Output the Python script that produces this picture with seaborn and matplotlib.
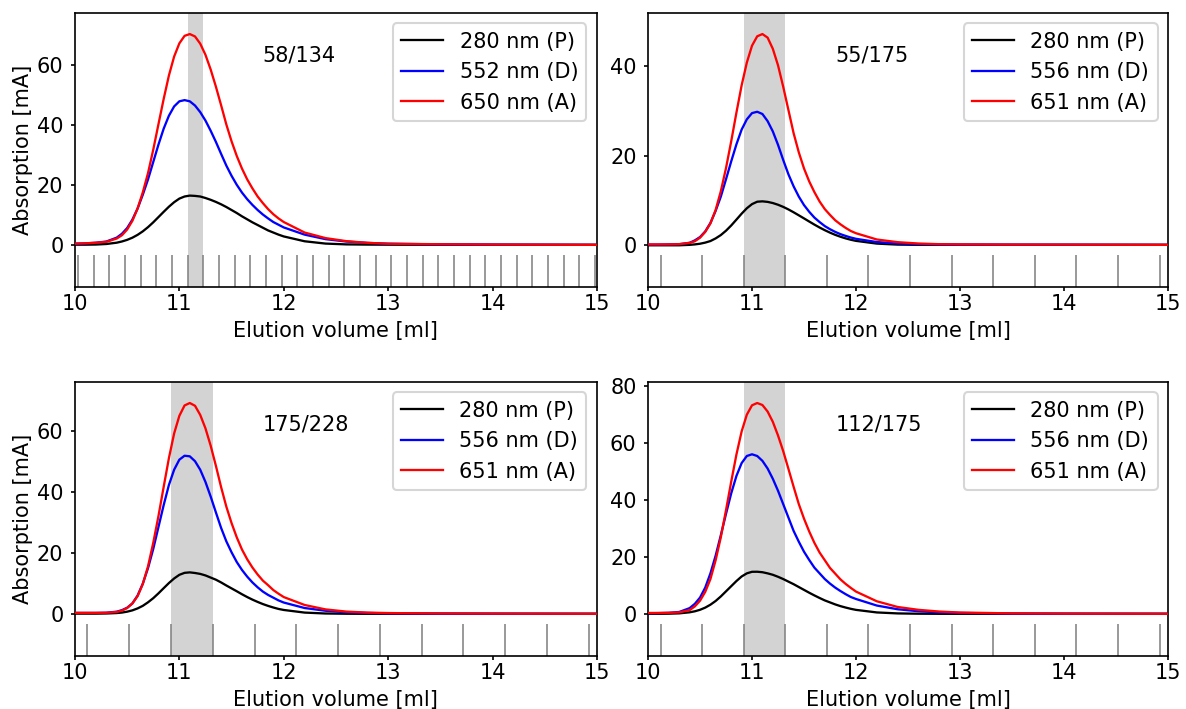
import matplotlib
matplotlib.use("Agg")
import matplotlib.pyplot as plt
from matplotlib.ticker import MultipleLocator
import pandas as pd
import seaborn as sns

# Elution volume grid (ml), shared by all chromatograms
elution_ml = [10.0, 10.1, 10.2, 10.3, 10.4, 10.45, 10.5, 10.55, 10.6, 10.65,
              10.7, 10.75, 10.8, 10.85, 10.9, 10.95, 11.0, 11.05, 11.1, 11.15,
              11.2, 11.25, 11.3, 11.35, 11.4, 11.45, 11.5, 11.55, 11.6, 11.65,
              11.7, 11.75, 11.8, 11.85, 11.9, 11.95, 12.0, 12.2, 12.4, 12.6,
              12.8, 13.0, 13.5, 14.0, 15.0]

# Sample 58/134 (mA)
p_58_134 = [0.05, 0.05, 0.1, 0.28, 0.72, 1.12, 1.66, 2.38, 3.33, 4.5,
            5.9, 7.5, 9.25, 11.0, 12.7, 14.2, 15.4, 16.1, 16.4, 16.3,
            16.1, 15.6, 15.0, 14.3, 13.5, 12.6, 11.6, 10.6, 9.5, 8.5,
            7.5, 6.6, 5.7, 4.8, 4.1, 3.4, 2.8, 1.19, 0.42, 0.15,
            0.08, 0.05, 0.02, 0.0, 0.0]
d_58_134 = [0.4, 0.5, 0.7, 1.1, 2.4, 3.7, 5.6, 8.4, 12.1, 16.7,
            21.8, 27.6, 33.4, 38.7, 43.0, 46.1, 47.8, 48.2, 47.8, 46.4,
            44.2, 41.4, 38.0, 34.3, 30.3, 26.4, 23.0, 20.0, 17.4, 15.2,
            13.3, 11.6, 10.1, 8.8, 7.6, 6.7, 5.8, 3.4, 1.9, 1.1,
            0.65, 0.38, 0.15, 0.08, 0.0]
a_58_134 = [0.4, 0.5, 0.7, 1.0, 2.1, 3.2, 5.1, 8.0, 12.1, 17.5,
            23.9, 31.7, 40.2, 48.6, 56.4, 62.7, 67.1, 69.6, 70.2, 69.4,
            67.0, 63.3, 58.4, 52.7, 46.5, 40.1, 34.5, 29.6, 25.4, 21.8,
            18.8, 16.1, 13.9, 11.9, 10.2, 8.8, 7.6, 4.1, 2.25, 1.23,
            0.67, 0.37, 0.2, 0.1, 0.0]

# Sample 55/175 (mA)
p_55_175 = [-0.1, -0.1, -0.1, -0.1, 0.0, 0.1, 0.25, 0.5, 0.85, 1.44,
            2.19, 3.17, 4.34, 5.65, 6.98, 8.19, 9.12, 9.66, 9.74, 9.62,
            9.36, 8.98, 8.50, 7.93, 7.29, 6.61, 5.92, 5.22, 4.53, 3.88,
            3.28, 2.73, 2.24, 1.82, 1.45, 1.14, 0.89, 0.28, 0.05, 0.0,
            0.0, 0.0, 0.0, 0.0, 0.0]
d_55_175 = [0.05, 0.05, 0.1, 0.15, 0.45, 1.0, 1.75, 3.0, 4.9, 7.6,
            10.8, 14.7, 18.7, 22.5, 25.8, 28.1, 29.5, 29.8, 29.3, 27.7,
            25.4, 22.4, 19.0, 15.8, 13.1, 10.8, 8.9, 7.4, 6.1, 5.1,
            4.2, 3.5, 2.9, 2.4, 2.0, 1.64, 1.35, 0.63, 0.3, 0.15,
            0.08, 0.05, 0.03, 0.02, 0.0]
a_55_175 = [0.1, 0.1, 0.1, 0.15, 0.45, 0.8, 1.6, 2.9, 4.8, 7.8,
            12.0, 17.2, 23.2, 29.6, 35.7, 40.8, 44.6, 46.7, 47.2, 46.4,
            43.9, 40.2, 35.4, 30.2, 25.0, 20.7, 17.1, 14.2, 11.8, 9.7,
            8.0, 6.7, 5.5, 4.6, 3.8, 3.1, 2.6, 1.2, 0.6, 0.3,
            0.15, 0.1, 0.05, 0.05, 0.0]

# Sample 175/228 (mA)
p_175_228 = [0.05, 0.05, 0.05, 0.1, 0.25, 0.41, 0.70, 1.13, 1.77, 2.62,
             3.78, 5.13, 6.72, 8.42, 10.1, 11.6, 12.8, 13.45, 13.6, 13.4,
             13.1, 12.6, 11.9, 11.2, 10.3, 9.3, 8.35, 7.4, 6.42, 5.5,
             4.66, 3.9, 3.2, 2.6, 2.07, 1.6, 1.26, 0.40, 0.1, 0.02,
             0.0, 0.0, 0.0, 0.0, 0.0]
d_175_228 = [0.3, 0.3, 0.3, 0.35, 0.7, 1.2, 2.0, 3.4, 6.0, 9.9,
             15.0, 21.3, 28.5, 35.7, 42.3, 47.3, 50.6, 51.9, 51.7, 50.1,
             47.3, 43.3, 38.5, 33.3, 28.2, 23.8, 20.2, 17.0, 14.4, 12.2,
             10.3, 8.7, 7.3, 6.2, 5.3, 4.4, 3.7, 1.9, 1.0, 0.5,
             0.28, 0.15, 0.08, 0.04, 0.0]
a_175_228 = [0.3, 0.3, 0.3, 0.35, 0.6, 1.05, 1.9, 3.4, 5.8, 9.8,
             15.6, 23.3, 32.1, 41.7, 51.1, 59.2, 65.0, 68.4, 69.2, 68.3,
             65.3, 60.9, 55.2, 48.6, 41.6, 35.2, 29.8, 25.1, 21.1, 17.9,
             15.2, 12.9, 10.9, 9.4, 7.8, 6.6, 5.5, 2.9, 1.45, 0.73,
             0.4, 0.25, 0.1, 0.05, 0.0]

# Sample 112/175 (mA)
p_112_175 = [0.0, 0.0, 0.04, 0.16, 0.53, 0.88, 1.41, 2.17, 3.2, 4.5,
             6.1, 7.9, 9.7, 11.5, 13.1, 14.2, 14.75, 14.77, 14.6, 14.2,
             13.7, 13.0, 12.2, 11.3, 10.4, 9.4, 8.4, 7.4, 6.45, 5.55,
             4.7, 4.0, 3.3, 2.7, 2.2, 1.75, 1.38, 0.48, 0.14, 0.03,
             0.0, 0.0, 0.0, 0.0, 0.0]
d_112_175 = [0.2, 0.25, 0.35, 0.65, 2.0, 3.5, 5.7, 9.2, 14.2, 20.4,
             27.6, 35.1, 42.3, 48.4, 52.9, 55.4, 56.0, 55.4, 53.7, 51.0,
             47.4, 43.2, 38.5, 33.8, 29.1, 25.3, 21.8, 18.9, 16.2, 14.2,
             12.2, 10.6, 9.2, 8.0, 6.9, 5.9, 5.2, 2.9, 1.6, 0.9,
             0.5, 0.3, 0.1, 0.05, 0.0]
a_112_175 = [0.3, 0.3, 0.35, 0.5, 1.3, 2.6, 4.6, 7.7, 12.2, 18.8,
             26.9, 36.4, 46.4, 55.9, 64.0, 69.9, 73.2, 74.0, 73.3, 71.0,
             67.4, 62.6, 57.1, 50.9, 44.6, 38.5, 33.4, 28.9, 24.9, 21.5,
             18.8, 16.1, 14.1, 12.1, 10.5, 9.1, 7.8, 4.4, 2.4, 1.4,
             0.8, 0.45, 0.15, 0.05, 0.0]

# Fraction boundaries (ml) from the fraction collector
fractions_fine = [10.03, 10.18, 10.33, 10.48, 10.63, 10.78, 10.93, 11.08, 11.23,
                  11.38, 11.53, 11.68, 11.83, 11.98, 12.13, 12.28, 12.43, 12.58,
                  12.73, 12.88, 13.03, 13.18, 13.33, 13.48, 13.63, 13.78, 13.93,
                  14.08, 14.23, 14.38, 14.53, 14.68, 14.83, 14.98]
fractions_coarse = [10.12, 10.52, 10.92, 11.32, 11.72, 12.12, 12.52, 12.92,
                    13.32, 13.72, 14.12, 14.52, 14.92]

# Pooled fraction for each sample (ml)
pool_58_134 = (11.08, 11.23)
pool_other = (10.92, 11.32)

sample_names = ["58/134", "55/175", "175/228", "112/175"]
labels_first = ["280 nm (P)", "552 nm (D)", "650 nm (A)"]
labels_other = ["280 nm (P)", "556 nm (D)", "651 nm (A)"]
line_colors = ["black", "blue", "red"]

panels = [
    (sample_names[0], [p_58_134, d_58_134, a_58_134], labels_first, fractions_fine, pool_58_134),
    (sample_names[1], [p_55_175, d_55_175, a_55_175], labels_other, fractions_coarse, pool_other),
    (sample_names[2], [p_175_228, d_175_228, a_175_228], labels_other, fractions_coarse, pool_other),
    (sample_names[3], [p_112_175, d_112_175, a_112_175], labels_other, fractions_coarse, pool_other),
]

plt.rcParams.update({
    "xtick.major.size": 2.0,
    "ytick.major.size": 2.0,
    "xtick.major.pad": 1.5,
    "ytick.major.pad": 3.5,
})

fig = plt.figure(figsize=(1186 / 150, 709 / 150), dpi=150)
axes_rects = [
    [0.0632, 0.5952, 0.4401, 0.3865],
    [0.5464, 0.5952, 0.4384, 0.3865],
    [0.0632, 0.0748, 0.4401, 0.3865],
    [0.5464, 0.0748, 0.4384, 0.3865],
]

for i, (name, traces, labels, fracs, pool) in enumerate(panels):
    ax = fig.add_axes(axes_rects[i])
    top = max(max(t) for t in traces)
    lo, hi = -0.2 * top, 1.1 * top

    # pooled fraction and fraction marks
    ax.axvspan(pool[0], pool[1], color="lightgrey", lw=0, zorder=0)
    ax.vlines(fracs, lo, -0.05 * top, colors="grey", lw=0.75, zorder=1)

    for trace, lab, col in zip(traces, labels, line_colors):
        df = pd.DataFrame({"ml": elution_ml, "mA": trace})
        sns.lineplot(data=df, x="ml", y="mA", color=col, label=lab,
                     lw=1.1, estimator=None, ax=ax, zorder=3)

    ax.text(11.8, 0.9 * top, name, ha="left", va="center", fontsize=10)
    ax.set_xlim(10, 15)
    ax.set_ylim(lo, hi)
    ax.xaxis.set_major_locator(MultipleLocator(1))
    ax.yaxis.set_major_locator(MultipleLocator(20))
    ax.set_xlabel("Elution volume [ml]", labelpad=3)
    ax.set_ylabel("Absorption [mA]" if i % 2 == 0 else "", labelpad=2)
    ax.legend(loc="upper right")

fig.savefig("out.png", dpi=150)
